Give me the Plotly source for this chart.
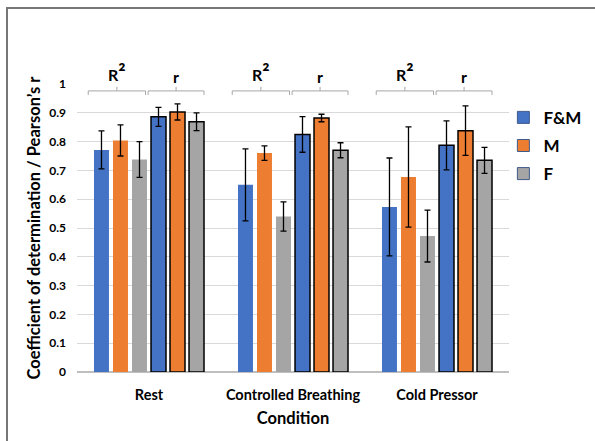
import plotly.graph_objects as go

# ---- data ----
categories = ["Rest", "Controlled Breathing", "Cold Pressor"]
groups = ["F&M", "M", "F"]

r2_fm = [0.771, 0.650, 0.573]
r2_fm_err = [0.066, 0.125, 0.170]
r2_m = [0.804, 0.760, 0.677]
r2_m_err = [0.054, 0.025, 0.174]
r2_f = [0.738, 0.540, 0.472]
r2_f_err = [0.062, 0.051, 0.090]

r_fm = [0.886, 0.825, 0.787]
r_fm_err = [0.033, 0.062, 0.085]
r_m = [0.903, 0.882, 0.838]
r_m_err = [0.028, 0.013, 0.086]
r_f = [0.869, 0.770, 0.735]
r_f_err = [0.031, 0.026, 0.045]

metric_labels = ["R<span style='font-size:22px'>²</span>", "r"]

# ---- styles ----
colors = {"F&M": "#4472C4", "M": "#ED7D31", "F": "#A5A5A5"}
FONT = "Lato, 'Open Sans', sans-serif"
W, H = 595, 441
ML, MR, MT, MB = 77, 86, 84, 69
PW, PH = W - ML - MR, H - MT - MB

bar_w = 0.104
pitch = 0.132
start = -0.382

xs = list(range(len(categories)))
series = [
    (r2_fm, r2_fm_err, "F&M", False),
    (r2_m, r2_m_err, "M", False),
    (r2_f, r2_f_err, "F", False),
    (r_fm, r_fm_err, "F&M", True),
    (r_m, r_m_err, "M", True),
    (r_f, r_f_err, "F", True),
]

fig = go.Figure()
for i, (vals, errs, g, outlined) in enumerate(series):
    fig.add_trace(go.Bar(
        x=xs, y=vals, width=bar_w, offset=start + i * pitch,
        marker=dict(color=colors[g],
                    line=dict(color="#000000", width=1.5 if outlined else 0)),
        error_y=dict(type="data", array=errs, color="#000000", thickness=1.3, width=3),
        showlegend=False, name=g,
    ))

# legend entries
for k, g in enumerate(groups):
    fig.add_trace(go.Bar(
        x=[None], y=[None], name=g, legendgroup=g,
        marker=dict(color=colors[g], line=dict(color="#3f5a8a", width=1)),
        showlegend=True,
    ))

# brackets and labels above bar groups
shapes = []
annotations = []
y_line, y_end, y_tick = 0.976, 0.962, 0.990
for c in xs:
    spans = [
        (c + start - 0.04, c + start + 2 * pitch + bar_w - 0.01),
        (c + start + 3 * pitch - 0.02, c + start + 5 * pitch + bar_w),
    ]
    for (a, b), lab in zip(spans, metric_labels):
        m = (a + b) / 2
        annotations.append(dict(
            x=m, y=0.99, xref="x", yref="paper", text=lab, showarrow=False,
            font=dict(family=FONT, size=16, color="#000000", weight="bold"),
            yanchor="bottom", borderpad=0,
        ))
        shapes.append(dict(
            type="path", xref="x", yref="y",
            path=f"M{a},{y_end} L{a},{y_line} L{b},{y_line} L{b},{y_end} M{m},{y_line} L{m},{y_tick}",
            line=dict(color="#a6a6a6", width=1),
        ))

# outer chart frame (cropped at right and bottom)
def px_to_paper_x(px):
    return (px - ML) / PW

def px_to_paper_y(py):
    return (H - MB - py) / PH

shapes.append(dict(
    type="rect", xref="paper", yref="paper",
    x0=px_to_paper_x(7), x1=px_to_paper_x(W + 10),
    y0=px_to_paper_y(H + 10), y1=px_to_paper_y(8),
    line=dict(color="#777777", width=2), fillcolor="rgba(0,0,0,0)", layer="below",
))

fig.update_layout(
    width=W, height=H,
    margin=dict(l=ML, r=MR, t=MT, b=MB, pad=0, autoexpand=False),
    paper_bgcolor="white", plot_bgcolor="white",
    barmode="overlay",
    font=dict(family=FONT, color="#000000"),
    shapes=shapes, annotations=annotations,
    legend=dict(
        x=0.987, y=0.945, xanchor="left", yanchor="top",
        font=dict(family=FONT, size=17, color="#000000", weight="bold"),
        tracegroupgap=3, bgcolor="rgba(0,0,0,0)",
    ),
    xaxis=dict(
        range=[-0.5, 2.5], tickvals=xs, ticktext=categories,
        tickfont=dict(family=FONT, size=14.5, color="#000000", weight="bold"),
        showgrid=False, zeroline=False, showline=False, ticks="",
        ticklabelstandoff=12,
        title=dict(text="Condition", font=dict(family=FONT, size=16.5, color="#000000", weight="bold"), standoff=10),
    ),
    yaxis=dict(
        range=[0, 1], dtick=0.1, tick0=0,
        tickformat="~g",
        tickfont=dict(family=FONT, size=12, color="#000000", weight="bold"),
        showgrid=True, gridcolor="#d9d9d9", gridwidth=1.2,
        zeroline=True, zerolinecolor="#bfbfbf", zerolinewidth=1.5,
        showline=False, ticks="", ticklabelstandoff=10,
        title=dict(text="Coefficient of determination / Pearson’s r",
                   font=dict(family=FONT, size=16.5, color="#000000", weight="bold"), standoff=4),
    ),
)

fig.write_html("out.html")
